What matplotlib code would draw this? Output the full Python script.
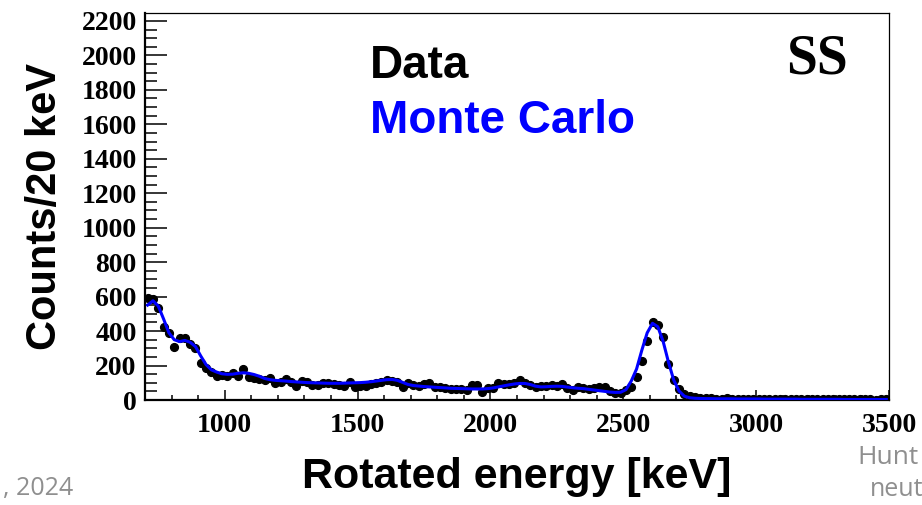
import matplotlib
matplotlib.use("Agg")
import matplotlib.pyplot as plt
import numpy as np
from matplotlib.ticker import MultipleLocator

# 20 keV bins from 700 to 3500 keV (bin centres)
energy = np.arange(710, 3500, 20)

# measured counts per bin
data_counts = [
    590, 586, 536, 424, 387, 309, 358, 362, 323, 304,  # 710-890
    217, 184, 161, 141, 145, 141, 155, 141, 178, 135,  # 910-1090
    126, 120, 116, 126, 97, 103, 122, 106, 81, 112,    # 1110-1290
    106, 87, 87, 100, 100, 91, 87, 84, 106, 77,        # 1310-1490
    81, 81, 95, 100, 106, 116, 112, 106, 77, 97,       # 1510-1690
    87, 81, 93, 97, 77, 73, 68, 66, 62, 62,            # 1710-1890
    58, 87, 87, 48, 68, 68, 97, 93, 93, 100,           # 1910-2090
    116, 97, 87, 77, 81, 81, 87, 81, 93, 68,           # 2110-2290
    58, 73, 70, 62, 68, 73, 73, 54, 43, 43,            # 2310-2490
    58, 73, 135, 228, 342, 455, 435, 368, 209, 116,    # 2510-2690
    62, 35, 23, 16, 12, 9, 10, 8, 7, 9,                # 2710-2890
    6, 7, 8, 6, 5, 7, 6, 5, 6, 4,                      # 2910-3090
    5, 6, 5, 4, 5, 4, 3, 5, 4, 4,                      # 3110-3290
    3, 4, 3, 4, 3, 3, 4, 2, 3, 3,                      # 3310-3490
]

# simulated spectrum, same binning
mc_counts = [
    551, 576, 545, 470, 390, 350, 339, 346, 335, 310,
    255, 205, 175, 162, 152, 149, 150, 155, 158, 155,
    148, 138, 125, 118, 114, 112, 110, 107, 105, 103,
    101, 100, 99, 98, 97, 97, 97, 98, 99, 100,
    101, 103, 106, 110, 114, 118, 119, 114, 102, 90,
    84, 81, 78, 76, 74, 72, 70, 68, 67, 66,
    65, 64, 64, 64, 66, 70, 76, 82, 88, 93,
    96, 96, 90, 80, 76, 77, 79, 80, 79, 75,
    71, 68, 66, 62, 58, 54, 50, 46, 44, 45,
    60, 110, 180, 290, 390, 445, 425, 340, 220, 115,
    52, 22, 13, 10, 9, 8, 8, 7, 7, 7,
    7, 6, 6, 6, 6, 6, 5, 5, 5, 5,
    5, 5, 5, 4, 4, 4, 4, 4, 4, 4,
    4, 3, 3, 3, 3, 3, 3, 3, 3, 3,
]

x_ticks = [1000, 1500, 2000, 2500, 3000, 3500]
y_ticks = list(range(0, 2201, 200))

BLUE = "#0000ff"
SANS = "Liberation Sans"
SERIF = "Liberation Serif"

fig = plt.figure(figsize=(9.22, 5.05), dpi=100)
ax = fig.add_axes([145 / 922, 105 / 505, 744 / 922, 387 / 505])

ax.plot(energy, data_counts, "o", color="black", markersize=5.6, zorder=2)
ax.plot(energy, mc_counts, "-", color=BLUE, linewidth=2.2, zorder=3)

ax.set_xlim(700, 3500)
ax.set_ylim(0, 2246)
ax.set_xticks(x_ticks)
ax.set_yticks(y_ticks)
ax.xaxis.set_minor_locator(MultipleLocator(100))
ax.yaxis.set_minor_locator(MultipleLocator(50))

ax.tick_params(axis="both", which="both", direction="in", top=False, right=False,
               width=1.1, colors="black")
ax.tick_params(axis="y", which="major", length=16, pad=6)
ax.tick_params(axis="y", which="minor", length=8.5)
ax.tick_params(axis="x", which="major", length=7.5, pad=9)
ax.tick_params(axis="x", which="minor", length=3.8)

for lab in ax.get_xticklabels() + ax.get_yticklabels():
    lab.set_fontfamily(SERIF)
    lab.set_fontweight("bold")
    lab.set_fontsize(20)

for side in ("left", "bottom"):
    ax.spines[side].set_linewidth(1.6)
for side in ("top", "right"):
    ax.spines[side].set_linewidth(0.9)

ax.set_xlabel("Rotated energy [keV]", fontfamily=SANS, fontweight="bold",
              fontsize=31, labelpad=14)
ax.set_ylabel("Counts/20 keV", fontfamily=SANS, fontweight="bold",
              fontsize=30, labelpad=12)

# legend-style labels and selection tag
fig.text(370 / 922, 1 - 78 / 505, "Data", fontfamily=SANS, fontweight="bold",
         fontsize=33, color="black", ha="left", va="baseline")
fig.text(370 / 922, 1 - 133 / 505, "Monte Carlo", fontfamily=SANS, fontweight="bold",
         fontsize=33, color=BLUE, ha="left", va="baseline")
fig.text(817 / 922, 1 - 73 / 505, "SS", fontfamily=SERIF, fontweight="bold",
         fontsize=40, color="black", ha="center", va="baseline")

# slide footer fragments at the edges
GREY = "#8f8f8f"
fig.text(3 / 922, 1 - 489 / 505, ", 2024", fontfamily="Open Sans",
         fontsize=18, color=GREY, ha="left", va="center")
fig.text(857 / 922, 1 - 457 / 505, "Hunt", fontfamily="Open Sans",
         fontsize=19, color=GREY, ha="left", va="center")
fig.text(870 / 922, 1 - 490 / 505, "neut", fontfamily="Open Sans",
         fontsize=18, color=GREY, ha="left", va="center")

fig.savefig("out.png", dpi=100)
